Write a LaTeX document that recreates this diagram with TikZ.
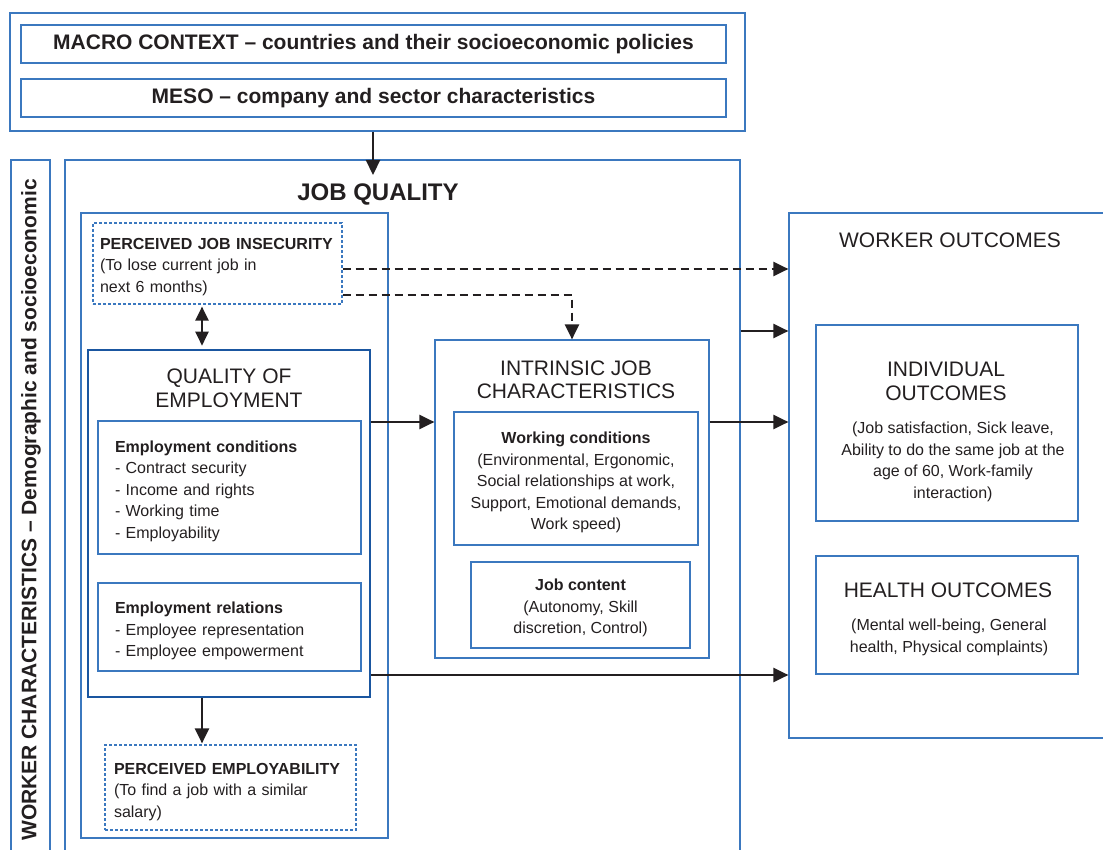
\documentclass[tikz,border=0pt]{standalone}
\usepackage{fontspec}
\setmainfont{Liberation Sans}
\usetikzlibrary{arrows.meta}
\definecolor{boxblue}{HTML}{3B78BF}
\definecolor{darkblue}{HTML}{1A56A0}
\definecolor{ink}{HTML}{231F20}

\begin{document}
\begin{tikzpicture}[x=1pt, y=-1pt, thick,
    every node/.style={text=ink},
    box/.style={draw=boxblue, line width=1.2pt, inner sep=0pt},
    dashbox/.style={box, dash pattern=on 3pt off 2pt},
    main box/.style={draw=darkblue, line width=2.6pt, inner sep=0pt},
    head/.style={font=\fontsize{21}{23.5}\selectfont, align=center, inner sep=0pt},
    big head/.style={font=\bfseries\fontsize{24}{28}\selectfont, inner sep=0pt},
    ctx head/.style={font=\bfseries\fontsize{21}{24}\selectfont},
    body/.style={font=\fontsize{16}{21.5}\selectfont, inner sep=0pt},
    arrow/.style={draw=ink, line width=2.2pt, -{Triangle[length=15pt,width=14pt]}},
    dasharrow/.style={arrow, dash pattern=on 8pt off 5pt},
    dblarrow/.style={arrow, {Triangle[length=14pt,width=13pt]}-{Triangle[length=14pt,width=13pt]}}]
    \useasboundingbox (0, 0) rectangle (1103, 850);
    \clip (0, 0) rectangle (1103, 850);

    % context
    \node[box, minimum width=735pt, minimum height=118pt] at (377.5, 72) (ctx) {};
    \node[box, ctx head, minimum width=705pt, minimum height=38pt] at (373.5, 44) (macro) {MACRO CONTEXT – countries and their socioeconomic policies};
    \node[box, ctx head, minimum width=705pt, minimum height=38pt] at (373.5, 98) (meso) {MESO – company and sector characteristics};

    % worker characteristics
    \node[box, minimum width=39pt, minimum height=700pt] at (30.5, 510) (wchar) {};
    \node[font=\bfseries\fontsize{21}{24}\selectfont, rotate=90, inner sep=0pt] at (31, 510) (wchartext) {WORKER CHARACTERISTICS – Demographic and socioeconomic};

    % job quality
    \node[box, minimum width=675pt, minimum height=700pt] at (402.5, 510) (jq) {};
    \node[big head] at (378, 194) (jqtitle) {JOB QUALITY};
    \node[box, minimum width=307pt, minimum height=625pt] at (234.5, 525.5) (qcol) {};
    \node[dashbox, minimum width=249pt, minimum height=81pt] at (217.5, 263.5) (pji) {};
    \node[body, text width=235pt, align=left] at (217.5, 267) (pjitext) {\textbf{PERCEIVED JOB INSECURITY}\\(To lose current job in\\next 6 months)};
    \node[main box, minimum width=282pt, minimum height=347pt] at (229, 523.5) (qoe) {};
    \node[head] at (229, 388.5) (qoetitle) {QUALITY OF\\EMPLOYMENT};
    \node[box, minimum width=263pt, minimum height=133pt] at (229.5, 487.5) (econd) {};
    \node[body, text width=229pt, align=left] at (229.5, 491) (econdtext) {\textbf{Employment conditions}\\- Contract security\\- Income and rights\\- Working time\\- Employability};
    \node[box, minimum width=263pt, minimum height=88pt] at (229.5, 627) (erel) {};
    \node[body, text width=229pt, align=left] at (229.5, 631) (ereltext) {\textbf{Employment relations}\\- Employee representation\\- Employee empowerment};
    \node[dashbox, minimum width=251pt, minimum height=85pt] at (230.5, 787.5) (pemp) {};
    \node[body, text width=233pt, align=left] at (230.5, 792) (pemptext) {\textbf{PERCEIVED EMPLOYABILITY}\\(To find a job with a similar\\salary)};

    % intrinsic job characteristics
    \node[box, minimum width=274pt, minimum height=318pt] at (572, 499) (ijc) {};
    \node[head] at (576, 380) (ijctitle) {INTRINSIC JOB\\CHARACTERISTICS};
    \node[box, minimum width=244pt, minimum height=133pt] at (576, 478.5) (wcond) {};
    \node[body, align=center] at (576, 482.5) (wcondtext) {\textbf{Working conditions}\\(Environmental, Ergonomic,\\Social relationships at work,\\Support, Emotional demands,\\Work speed)};
    \node[box, minimum width=219pt, minimum height=86pt] at (580.5, 605) (jcont) {};
    \node[body, align=center] at (580.5, 608) (jconttext) {\textbf{Job content}\\(Autonomy, Skill\\discretion, Control)};

    % outcomes
    \node[box, minimum width=326pt, minimum height=525pt] at (952, 475.5) (wo) {};
    \node[head] at (950, 240) (wotitle) {WORKER OUTCOMES};
    \node[box, minimum width=262pt, minimum height=196pt] at (947, 423) (indiv) {};
    \node[head] at (946, 381.5) (indivtitle) {INDIVIDUAL\\OUTCOMES};
    \node[body, align=center] at (953, 462) (indivtext) {(Job satisfaction, Sick leave,\\Ability to do the same job at the\\age of 60, Work-family\\interaction)};
    \node[box, minimum width=262pt, minimum height=118pt] at (947, 615) (health) {};
    \node[head] at (948, 590) (healthtitle) {HEALTH OUTCOMES};
    \node[body, align=center] at (949, 637.5) (healthtext) {(Mental well-being, General\\health, Physical complaints)};

    % levels of the connectors
    \coordinate (ax) at (202, 0);
    \coordinate (cx) at (373, 0);
    \coordinate (cend) at (373, 175);
    \coordinate (y1) at (0, 269);
    \coordinate (y2) at (0, 295);
    \coordinate (y3) at (0, 331);
    \coordinate (y4) at (0, 422);
    \coordinate (y5) at (0, 675);

    \path
        (ctx.south -| cx) edge[arrow] (cend)
        (pji.east |- y1) edge[dasharrow] (wo.west |- y1)
        (jq.east |- y3) edge[arrow] (wo.west |- y3)
        (qoe.east |- y4) edge[arrow] (ijc.west |- y4)
        (ijc.east |- y4) edge[arrow] (wo.west |- y4)
        (qoe.east |- y5) edge[arrow] (wo.west |- y5)
        (qoe.south -| ax) edge[arrow, shorten >=1pt] (pemp.north -| ax)
        (pji.south -| ax) edge[dblarrow, shorten <=2pt, shorten >=3pt] (qoe.north -| ax)
        ;
    \draw[dasharrow] (pji.east |- y2) -| (ijc.north);
\end{tikzpicture}
\end{document}
